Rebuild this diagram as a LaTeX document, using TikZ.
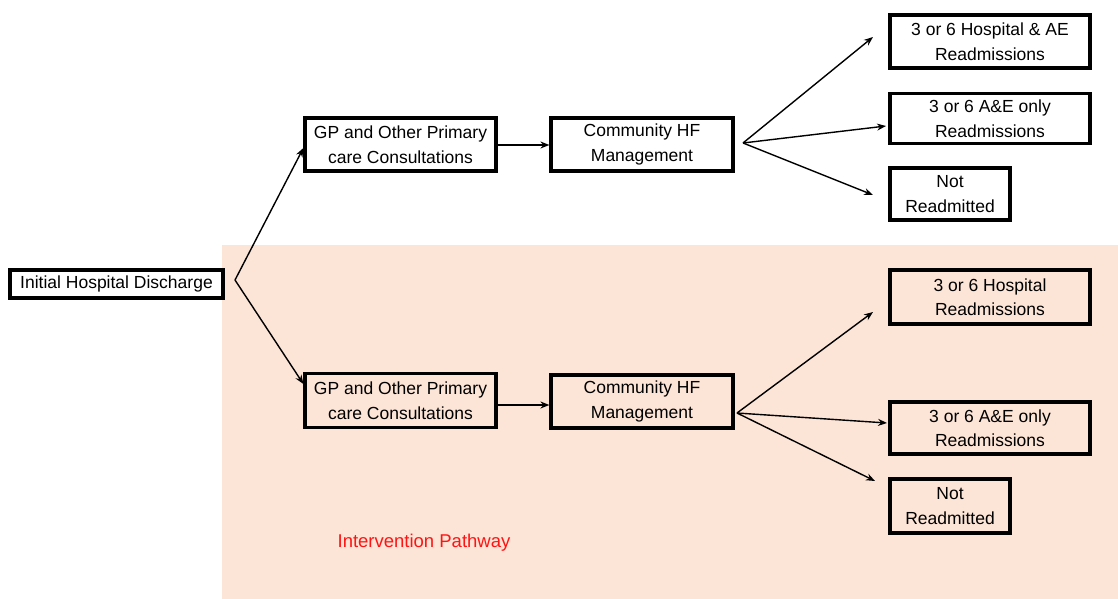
\documentclass[tikz,border=0pt]{standalone}
\usepackage{fontspec}
\setmainfont{Liberation Sans}
\usetikzlibrary{arrows.meta}
\definecolor{pathbg}{RGB}{252,228,214}
\definecolor{pathred}{RGB}{255,20,20}
\tikzset{
  box/.style={draw=black, line width=3.2pt, inner sep=0pt, align=center,
    font=\fontsize{17.5}{24.5}\selectfont},
  flow/.style={line width=1.4pt, -{Stealth[length=9pt,width=7pt]}},
}
\begin{document}
\begin{tikzpicture}[x=1pt,y=-1pt]
\useasboundingbox (0,0) rectangle (1118,599);
% shaded area of the intervention pathway
\fill[pathbg] (222,245) rectangle (1118,599);
\node[text=pathred, font=\fontsize{18.5}{20}\selectfont] (label) at (424,543) {Intervention Pathway};

% boxes
\node[box, minimum width=213pt, minimum height=28pt] (ihd) at (116.5,284) {Initial Hospital Discharge};

\node[box, minimum width=191pt, minimum height=53pt] (gpA) at (400.5,144.5) {GP and Other Primary\\care Consultations};
\node[box, minimum width=182pt, minimum height=53pt] (hfA) at (642,144.5) {Community HF\\Management};
\node[box, minimum width=200pt, minimum height=53pt] (rA1) at (990,41.5) {3 or 6 Hospital \& AE\\Readmissions};
\node[box, minimum width=200pt, minimum height=50pt] (rA2) at (990,118.5) {3 or 6 A\&E only\\Readmissions};
\node[box, minimum width=120pt, minimum height=52pt] (rA3) at (950,194) {Not\\Readmitted};

\node[box, minimum width=191pt, minimum height=54pt] (gpB) at (400.5,400.5) {GP and Other Primary\\care Consultations};
\node[box, minimum width=182pt, minimum height=53pt] (hfB) at (642,401.5) {Community HF\\Management};
\node[box, minimum width=200pt, minimum height=54pt] (rB1) at (990,297) {3 or 6 Hospital\\Readmissions};
\node[box, minimum width=200pt, minimum height=52pt] (rB2) at (990,428) {3 or 6 A\&E only\\Readmissions};
\node[box, minimum width=120pt, minimum height=54pt] (rB3) at (950,506) {Not\\Readmitted};

% branch points and arrow tips
\coordinate (split) at (235,280);
\coordinate (fanA) at (743,143);
\coordinate (fanB) at (737,413);
\coordinate (tipA1) at (873,37);
\coordinate (tipA2) at (886,126);
\coordinate (tipA3) at (873,195);
\coordinate (tipB1) at (873,312);
\coordinate (tipB2) at (887,423);
\coordinate (tipB3) at (875,481);

% connectors
\draw[flow] (split) -- (gpA.west |- 0,148);
\draw[flow] (split) -- (gpB.west |- 0,384);
\draw[flow] (gpA.east |- 0,145) -- (hfA.west |- 0,145);
\draw[flow] (gpB.east |- 0,405) -- (hfB.west |- 0,405);
\draw[flow] (fanA) -- (tipA1);
\draw[flow] (fanA) -- (tipA2);
\draw[flow] (fanA) -- (tipA3);
\draw[flow] (fanB) -- (tipB1);
\draw[flow] (fanB) -- (tipB2);
\draw[flow] (fanB) -- (tipB3);
\end{tikzpicture}
\end{document}
